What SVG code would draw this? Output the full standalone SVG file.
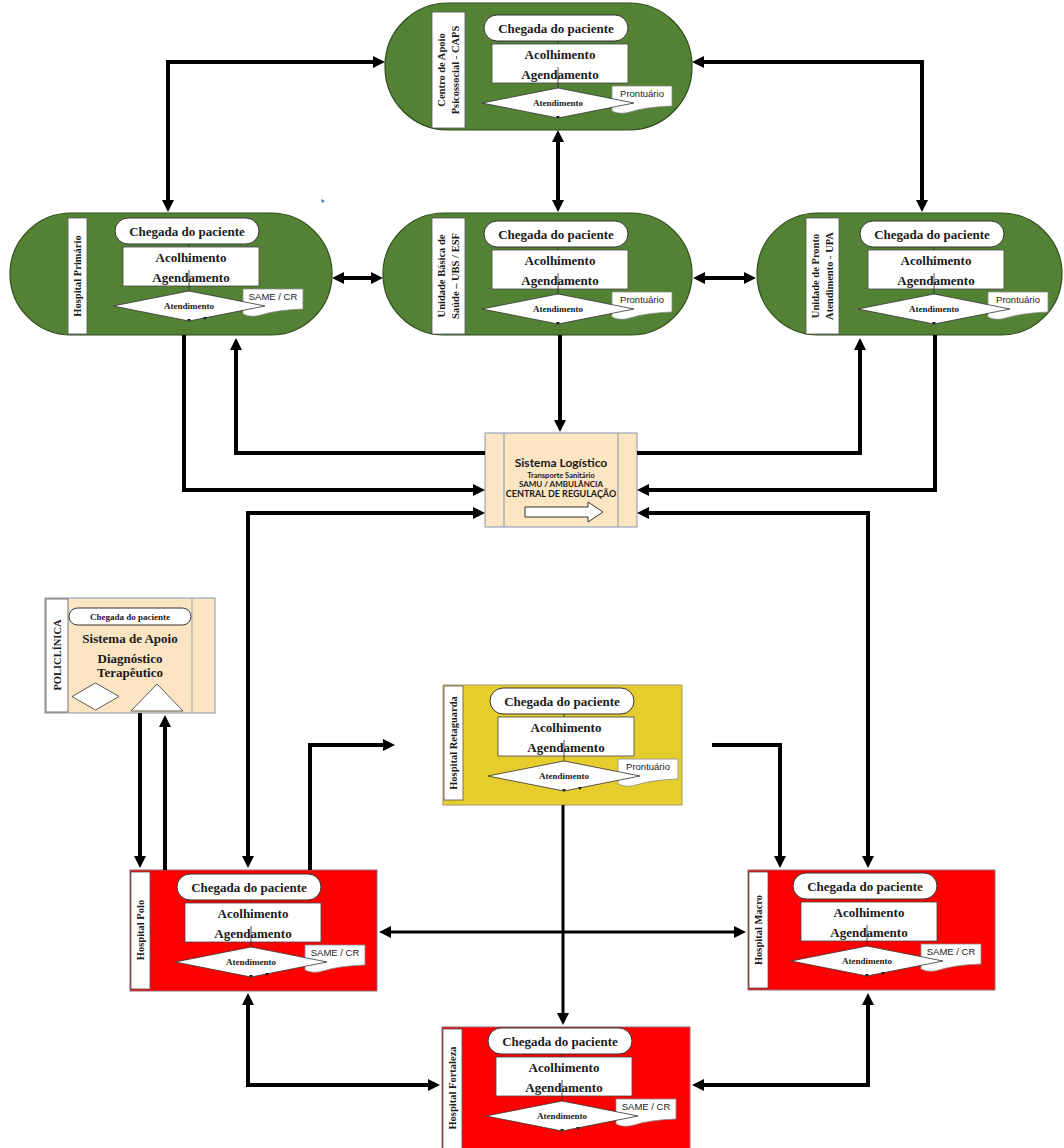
<svg xmlns="http://www.w3.org/2000/svg" width="1064" height="1148" viewBox="0 0 1064 1148">
<style>
.bg{fill:#fff}
.green{fill:#548235;stroke:#2e4a1c;stroke-width:1.2}
.red{fill:#ff0000;stroke:#8c6f78;stroke-width:1}
.yellow{fill:#e5cd2e;stroke:#a89a6a;stroke-width:1}
.tan{fill:#fbe5c3;stroke:#8497b0;stroke-width:1}
.strip{fill:#fff;stroke:#555;stroke-width:0.8}
.pill{fill:#fff;stroke:#333;stroke-width:1}
.box{fill:#fff;stroke:#444;stroke-width:0.8}
.dia{fill:#fff;stroke:#333;stroke-width:0.8}
.doc{fill:#fff;stroke:#8a8a8a;stroke-width:0.8}
.thin{stroke:#222;stroke-width:0.8;fill:none}
.hd{fill:#222}
.t13{font-family:"Liberation Serif","Times New Roman",serif;font-weight:bold;font-size:13px;text-anchor:middle;fill:#1a1a1a}
.t9{font-family:"Liberation Serif","Times New Roman",serif;font-weight:bold;font-size:9px;text-anchor:middle;fill:#1a1a1a}
.ts{font-family:"Liberation Serif","Times New Roman",serif;font-weight:bold;font-size:10.5px;text-anchor:middle;fill:#1a1a1a}
.dt{font-family:"Liberation Sans",Arial,sans-serif;font-size:9.5px;text-anchor:middle;fill:#222}
.sl{font-family:Lato,"Open Sans",sans-serif;font-weight:bold;text-anchor:middle;fill:#1a1a1a}
.conn{fill:none;stroke:#000;stroke-width:4;stroke-linejoin:miter}
.conn3{fill:none;stroke:#000;stroke-width:3}
</style>
<defs>
<marker id="ah" viewBox="0 0 12 12" refX="8" refY="6" markerWidth="12" markerHeight="12" markerUnits="userSpaceOnUse" orient="auto-start-reverse"><path d="M0,0 L12,6 L0,12 z" fill="#000"/></marker>
</defs>
<rect class="bg" x="0" y="0" width="1064" height="1148"/>

<!-- CAPS -->
<g id="caps">
<rect class="green" x="385" y="3" width="307" height="127" rx="63"/>
<rect class="strip" x="432" y="12" width="33" height="116"/>
<text class="ts" transform="translate(448,70) rotate(-90)" font-size="11"><tspan x="0" y="-3">Centro de Apoio</tspan><tspan x="0" y="10.5">Psicossocial - CAPS</tspan></text>
<rect class="pill" x="484" y="15" width="144" height="26" rx="13"/>
<text class="t13" x="556" y="33">Chegada do paciente</text>
<line class="thin" x1="558" y1="41" x2="558" y2="47"/><polygon class="hd" points="556,46 560,46 558,50"/>
<rect class="box" x="492" y="44" width="136" height="39"/>
<text class="t13" x="560" y="59">Acolhimento</text>
<text class="t13" x="560" y="79">Agendamento</text>
<line class="thin" x1="558" y1="67" x2="558" y2="88"/>
<path class="doc" d="M612,86 H672 V106 Q645,107 630,112 Q620,115 612,111 Z"/>
<polygon class="dia" points="558,88 634,103 558,118 482,103"/>
<text class="t9" x="558" y="106">Atendimento</text>
<text class="dt" x="642" y="97">Prontuário</text>
<polygon class="hd" points="556,116 560,116 558,119"/>
</g>

<!-- Hospital Primario -->
<g id="hospital-primario">
<rect class="green" x="10" y="213" width="322" height="122" rx="61"/>
<rect class="strip" x="68" y="218" width="19" height="116"/>
<text class="ts" transform="translate(77.5,276) rotate(-90)" y="3.7">Hospital Primário</text>
<rect class="pill" x="115" y="218" width="144" height="26" rx="13"/>
<text class="t13" x="187" y="236">Chegada do paciente</text>
<line class="thin" x1="189" y1="244" x2="189" y2="250"/><polygon class="hd" points="187,249 191,249 189,253"/>
<rect class="box" x="123" y="247" width="136" height="39"/>
<text class="t13" x="191" y="262">Acolhimento</text>
<text class="t13" x="191" y="282">Agendamento</text>
<line class="thin" x1="189" y1="270" x2="189" y2="291"/>
<path class="doc" d="M243,289 H303 V309 Q276,310 261,315 Q251,318 243,314 Z"/>
<polygon class="dia" points="189,291 265,306 189,321 113,306"/>
<text class="t9" x="189" y="309">Atendimento</text>
<text class="dt" x="273" y="300">SAME / CR</text>
<polygon class="hd" points="187,319 191,319 189,322"/><polygon class="hd" points="203,317 207,317 205,320"/>
</g>

<!-- UBS -->
<g id="ubs">
<rect class="green" x="383" y="213" width="309" height="122" rx="61"/>
<rect class="strip" x="432" y="218" width="33" height="116"/>
<text class="ts" transform="translate(448,276) rotate(-90)" font-size="11"><tspan x="0" y="-3">Unidade Básica de</tspan><tspan x="0" y="10.5">Saúde – UBS / ESF</tspan></text>
<rect class="pill" x="484" y="221" width="144" height="26" rx="13"/>
<text class="t13" x="556" y="239">Chegada do paciente</text>
<line class="thin" x1="558" y1="247" x2="558" y2="253"/><polygon class="hd" points="556,252 560,252 558,256"/>
<rect class="box" x="492" y="250" width="136" height="39"/>
<text class="t13" x="560" y="265">Acolhimento</text>
<text class="t13" x="560" y="285">Agendamento</text>
<line class="thin" x1="558" y1="273" x2="558" y2="294"/>
<path class="doc" d="M612,292 H672 V312 Q645,313 630,318 Q620,321 612,317 Z"/>
<polygon class="dia" points="558,294 634,309 558,324 482,309"/>
<text class="t9" x="558" y="312">Atendimento</text>
<text class="dt" x="642" y="303">Prontuário</text>
<polygon class="hd" points="556,322 560,322 558,325"/>
</g>

<!-- UPA -->
<g id="upa">
<rect class="green" x="757" y="213" width="305" height="122" rx="61"/>
<rect class="strip" x="806" y="218" width="33" height="116"/>
<text class="ts" transform="translate(822,276) rotate(-90)" font-size="11"><tspan x="0" y="-3">Unidade de Pronto</tspan><tspan x="0" y="10.5">Atendimento - UPA</tspan></text>
<rect class="pill" x="860" y="221" width="144" height="26" rx="13"/>
<text class="t13" x="932" y="239">Chegada do paciente</text>
<line class="thin" x1="934" y1="247" x2="934" y2="253"/><polygon class="hd" points="932,252 936,252 934,256"/>
<rect class="box" x="868" y="250" width="136" height="39"/>
<text class="t13" x="936" y="265">Acolhimento</text>
<text class="t13" x="936" y="285">Agendamento</text>
<line class="thin" x1="934" y1="273" x2="934" y2="294"/>
<path class="doc" d="M988,292 H1048 V312 Q1021,313 1006,318 Q996,321 988,317 Z"/>
<polygon class="dia" points="934,294 1010,309 934,324 858,309"/>
<text class="t9" x="934" y="312">Atendimento</text>
<text class="dt" x="1018" y="303">Prontuário</text>
<polygon class="hd" points="932,322 936,322 934,325"/>
</g>

<!-- Sistema Logistico -->
<g id="sistema-logistico">
<rect class="tan" x="485" y="433" width="152" height="94"/>
<line x1="504" y1="433" x2="504" y2="527" stroke="#8497b0" stroke-width="1"/>
<line x1="618" y1="433" x2="618" y2="527" stroke="#8497b0" stroke-width="1"/>
<text class="sl" x="561" y="467" font-size="12">Sistema Logístico</text>
<text class="sl" x="561" y="478" font-size="7.5" font-weight="normal">Transporte Sanitário</text>
<text class="sl" x="561" y="487" font-size="8">SAMU / AMBULÂNCIA</text>
<text class="sl" x="561" y="497" font-size="9">CENTRAL DE REGULAÇÃO</text>
<polygon points="525,507 588,507 588,502 603,512 588,522 588,517 525,517" fill="#fff" stroke="#333" stroke-width="1"/>
</g>

<!-- Policlinica -->
<g id="policlinica">
<rect class="tan" x="45" y="598" width="170" height="115" stroke="#9aa3b0"/>
<rect class="strip" x="46" y="599" width="22" height="113"/>
<line x1="192" y1="598" x2="192" y2="713" stroke="#9aa3b0" stroke-width="1"/>
<text class="ts" transform="translate(57,655) rotate(-90)" y="4" font-size="11.5">POLICLÍNICA</text>
<rect class="pill" x="69" y="608" width="122" height="17" rx="8.5"/>
<text class="t9" x="130" y="619.5">Chegada do paciente</text>
<text class="t13" x="130" y="643" font-size="12.5">Sistema de Apoio</text>
<text class="t13" x="130" y="663" font-size="12">Diagnóstico</text>
<text class="t13" x="130" y="677" font-size="12">Terapêutico</text>
<polygon class="dia" points="95.5,683 119,696.5 95.5,710 72,696.5"/>
<polygon class="dia" points="157,684 183,711 131,711"/>
</g>

<!-- Hospital Retaguarda -->
<g id="hospital-retaguarda">
<rect class="yellow" x="443" y="685" width="239" height="120"/>
<rect class="strip" x="444" y="686" width="19" height="114"/>
<text class="ts" transform="translate(453.5,743) rotate(-90)" y="3.7">Hospital Retaguarda</text>
<rect class="pill" x="490" y="688" width="144" height="26" rx="13"/>
<text class="t13" x="562" y="706">Chegada do paciente</text>
<line class="thin" x1="564" y1="714" x2="564" y2="720"/><polygon class="hd" points="562,719 566,719 564,723"/>
<rect class="box" x="498" y="717" width="136" height="39"/>
<text class="t13" x="566" y="732">Acolhimento</text>
<text class="t13" x="566" y="752">Agendamento</text>
<line class="thin" x1="564" y1="740" x2="564" y2="761"/>
<path class="doc" d="M618,759 H678 V779 Q651,780 636,785 Q626,788 618,784 Z"/>
<polygon class="dia" points="564,761 640,776 564,791 488,776"/>
<text class="t9" x="564" y="779">Atendimento</text>
<text class="dt" x="648" y="770">Prontuário</text>
<polygon class="hd" points="562,789 566,789 564,792"/><polygon class="hd" points="578,787 582,787 580,790"/>
</g>

<!-- Hospital Polo -->
<g id="hospital-polo">
<rect class="red" x="130" y="870" width="247" height="121"/>
<rect class="strip" x="131" y="872" width="19" height="117"/>
<text class="ts" transform="translate(140.5,930) rotate(-90)" y="3.7">Hospital Polo</text>
<rect class="pill" x="177" y="874" width="144" height="26" rx="13"/>
<text class="t13" x="249" y="892">Chegada do paciente</text>
<line class="thin" x1="251" y1="900" x2="251" y2="906"/><polygon class="hd" points="249,905 253,905 251,909"/>
<rect class="box" x="185" y="903" width="136" height="39"/>
<text class="t13" x="253" y="918">Acolhimento</text>
<text class="t13" x="253" y="938">Agendamento</text>
<line class="thin" x1="251" y1="926" x2="251" y2="947"/>
<path class="doc" d="M305,945 H365 V965 Q338,966 323,971 Q313,974 305,970 Z"/>
<polygon class="dia" points="251,947 327,962 251,977 175,962"/>
<text class="t9" x="251" y="965">Atendimento</text>
<text class="dt" x="335" y="956">SAME / CR</text>
<polygon class="hd" points="249,975 253,975 251,978"/><polygon class="hd" points="265,973 269,973 267,976"/>
</g>

<!-- Hospital Macro -->
<g id="hospital-macro">
<rect class="red" x="748" y="870" width="247" height="120"/>
<rect class="strip" x="749" y="872" width="19" height="116"/>
<text class="ts" transform="translate(758.5,930) rotate(-90)" y="3.7">Hospital Macro</text>
<rect class="pill" x="793" y="873" width="144" height="26" rx="13"/>
<text class="t13" x="865" y="891">Chegada do paciente</text>
<line class="thin" x1="867" y1="899" x2="867" y2="905"/><polygon class="hd" points="865,904 869,904 867,908"/>
<rect class="box" x="801" y="902" width="136" height="39"/>
<text class="t13" x="869" y="917">Acolhimento</text>
<text class="t13" x="869" y="937">Agendamento</text>
<line class="thin" x1="867" y1="925" x2="867" y2="946"/>
<path class="doc" d="M921,944 H981 V964 Q954,965 939,970 Q929,973 921,969 Z"/>
<polygon class="dia" points="867,946 943,961 867,976 791,961"/>
<text class="t9" x="867" y="964">Atendimento</text>
<text class="dt" x="951" y="955">SAME / CR</text>
<polygon class="hd" points="865,974 869,974 867,977"/><polygon class="hd" points="881,972 885,972 883,975"/>
</g>

<!-- Hospital Fortaleza -->
<g id="hospital-fortaleza">
<rect class="red" x="442" y="1027" width="248" height="125"/>
<rect class="strip" x="443" y="1029" width="19" height="122"/>
<text class="ts" transform="translate(452.5,1088) rotate(-90)" y="3.7">Hospital Fortaleza</text>
<rect class="pill" x="488" y="1028" width="144" height="26" rx="13"/>
<text class="t13" x="560" y="1046">Chegada do paciente</text>
<line class="thin" x1="562" y1="1054" x2="562" y2="1060"/><polygon class="hd" points="560,1059 564,1059 562,1063"/>
<rect class="box" x="496" y="1057" width="136" height="39"/>
<text class="t13" x="564" y="1072">Acolhimento</text>
<text class="t13" x="564" y="1092">Agendamento</text>
<line class="thin" x1="562" y1="1080" x2="562" y2="1101"/>
<path class="doc" d="M616,1099 H676 V1119 Q649,1120 634,1125 Q624,1128 616,1124 Z"/>
<polygon class="dia" points="562,1101 638,1116 562,1131 486,1116"/>
<text class="t9" x="562" y="1119">Atendimento</text>
<text class="dt" x="646" y="1110">SAME / CR</text>
<polygon class="hd" points="560,1129 564,1129 562,1132"/><polygon class="hd" points="576,1127 580,1127 578,1130"/>
</g>

<polygon points="321,199 325,201 322,203" fill="#4472c4"/>

<!-- Connectors -->
<g id="connectors">
<path class="conn" d="M168,208 V62 H381" marker-start="url(#ah)" marker-end="url(#ah)"/>
<path class="conn" d="M696,62 H922 V208" marker-start="url(#ah)" marker-end="url(#ah)"/>
<path class="conn" d="M558,134 V208" marker-start="url(#ah)" marker-end="url(#ah)"/>
<path class="conn" d="M336,278 H379" marker-start="url(#ah)" marker-end="url(#ah)"/>
<path class="conn" d="M697,278 H752" marker-start="url(#ah)" marker-end="url(#ah)"/>
<path class="conn" d="M184,335 V490 H481" marker-end="url(#ah)"/>
<path class="conn" d="M485,453 H236 V342" marker-end="url(#ah)"/>
<path class="conn" d="M560,335 V428" marker-end="url(#ah)"/>
<path class="conn" d="M637,453 H860 V342" marker-end="url(#ah)"/>
<path class="conn" d="M935,335 V490 H641" marker-end="url(#ah)"/>
<path class="conn" d="M248,864 V513 H481" marker-start="url(#ah)" marker-end="url(#ah)"/>
<path class="conn" d="M868,864 V513 H641" marker-start="url(#ah)" marker-end="url(#ah)"/>
<path class="conn" d="M140,713 V864" marker-end="url(#ah)"/>
<path class="conn" d="M165,870 V719" marker-end="url(#ah)"/>
<path class="conn" d="M310,870 V745 H391" marker-end="url(#ah)"/>
<path class="conn" d="M712,745 H780 V864" marker-end="url(#ah)"/>
<path class="conn3" d="M563,805 V1021" marker-end="url(#ah)"/>
<path class="conn3" d="M383,932 H742" marker-start="url(#ah)" marker-end="url(#ah)"/>
<path class="conn" d="M248,997 V1085 H436" marker-start="url(#ah)" marker-end="url(#ah)"/>
<path class="conn" d="M868,997 V1085 H696" marker-start="url(#ah)" marker-end="url(#ah)"/>
</g>
</svg>
